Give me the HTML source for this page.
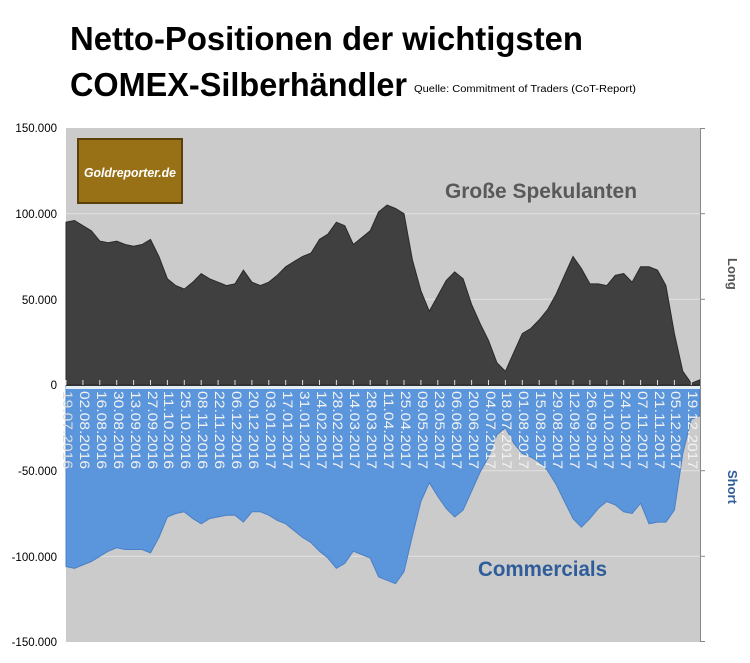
<!DOCTYPE html>
<html><head><meta charset="utf-8"><style>
body{margin:0;background:#fff;width:750px;height:663px;overflow:hidden}
svg{display:block;font-family:"Liberation Sans",sans-serif}
</style></head><body>
<svg width="750" height="663" viewBox="0 0 750 663">
<text x="70" y="50" font-size="33" font-weight="bold" fill="#000" textLength="513" lengthAdjust="spacingAndGlyphs">Netto-Positionen der wichtigsten</text>
<text x="70" y="96" font-size="33" font-weight="bold" fill="#000" textLength="337" lengthAdjust="spacingAndGlyphs">COMEX-Silberhändler</text>
<text x="414" y="92" font-size="10" fill="#000" textLength="222" lengthAdjust="spacingAndGlyphs">Quelle: Commitment of Traders (CoT-Report)</text>
<rect x="66" y="128" width="634" height="514" fill="#cbcbcb"/>
<g stroke="#e2e2e2" stroke-width="1">
<line x1="66" y1="213.7" x2="700" y2="213.7"/><line x1="66" y1="299.3" x2="700" y2="299.3"/>
<line x1="66" y1="470.7" x2="700" y2="470.7"/><line x1="66" y1="556.3" x2="700" y2="556.3"/>
</g>
<polygon id="longp" fill="#404040" stroke="#2a2a2a" stroke-width="1"/>
<polygon id="shortp" fill="#5b96dc" stroke="#4a80c4" stroke-width="1"/>
<rect x="66" y="384" width="634" height="2" fill="#333"/>
<rect x="66" y="386" width="634" height="3" fill="#e4ecf4"/>
<g id="lbl" font-size="14" fill="#f2f2f2">
<text transform="translate(63,391) rotate(90)" fill="#ddd">19.07.2016</text>
<text transform="translate(80,391) rotate(90)">02.08.2016</text>
<text transform="translate(97,391) rotate(90)">16.08.2016</text>
<text transform="translate(114,391) rotate(90)">30.08.2016</text>
<text transform="translate(131,391) rotate(90)">13.09.2016</text>
<text transform="translate(148,391) rotate(90)">27.09.2016</text>
<text transform="translate(164,391) rotate(90)">11.10.2016</text>
<text transform="translate(181,391) rotate(90)">25.10.2016</text>
<text transform="translate(198,391) rotate(90)">08.11.2016</text>
<text transform="translate(215,391) rotate(90)">22.11.2016</text>
<text transform="translate(232,391) rotate(90)">06.12.2016</text>
<text transform="translate(249,391) rotate(90)">20.12.2016</text>
<text transform="translate(266,391) rotate(90)">03.01.2017</text>
<text transform="translate(283,391) rotate(90)">17.01.2017</text>
<text transform="translate(300,391) rotate(90)">31.01.2017</text>
<text transform="translate(317,391) rotate(90)">14.02.2017</text>
<text transform="translate(333,391) rotate(90)">28.02.2017</text>
<text transform="translate(350,391) rotate(90)">14.03.2017</text>
<text transform="translate(367,391) rotate(90)">28.03.2017</text>
<text transform="translate(384,391) rotate(90)">11.04.2017</text>
<text transform="translate(401,391) rotate(90)">25.04.2017</text>
<text transform="translate(418,391) rotate(90)">09.05.2017</text>
<text transform="translate(435,391) rotate(90)">23.05.2017</text>
<text transform="translate(452,391) rotate(90)">06.06.2017</text>
<text transform="translate(469,391) rotate(90)">20.06.2017</text>
<text transform="translate(486,391) rotate(90)">04.07.2017</text>
<text transform="translate(502,391) rotate(90)">18.07.2017</text>
<text transform="translate(519,391) rotate(90)">01.08.2017</text>
<text transform="translate(536,391) rotate(90)">15.08.2017</text>
<text transform="translate(553,391) rotate(90)">29.08.2017</text>
<text transform="translate(570,391) rotate(90)">12.09.2017</text>
<text transform="translate(587,391) rotate(90)">26.09.2017</text>
<text transform="translate(604,391) rotate(90)">10.10.2017</text>
<text transform="translate(621,391) rotate(90)">24.10.2017</text>
<text transform="translate(638,391) rotate(90)">07.11.2017</text>
<text transform="translate(655,391) rotate(90)">21.11.2017</text>
<text transform="translate(671,391) rotate(90)">05.12.2017</text>
<text transform="translate(688,391) rotate(90)">19.12.2017</text>
</g>
<g id="ticks" stroke="#eee" stroke-width="1"></g>
<g font-size="11.5" fill="#000" text-anchor="end">
<text x="57" y="132">150.000</text><text x="57" y="218">100.000</text>
<text x="57" y="304">50.000</text><text x="57" y="389">0</text>
<text x="57" y="475">-50.000</text><text x="57" y="561">-100.000</text>
<text x="57" y="646">-150.000</text>
</g>
<g stroke="#888" stroke-width="1">
<line x1="700.5" y1="128" x2="700.5" y2="642"/>
<line x1="700" y1="128.5" x2="705" y2="128.5"/><line x1="700" y1="213.7" x2="705" y2="213.7"/>
<line x1="700" y1="299.3" x2="705" y2="299.3"/><line x1="700" y1="470.7" x2="705" y2="470.7"/>
<line x1="700" y1="556.3" x2="705" y2="556.3"/><line x1="700" y1="641.5" x2="705" y2="641.5"/>
</g>
<text transform="translate(728,258) rotate(90)" font-size="13" font-weight="bold" fill="#555">Long</text>
<text transform="translate(728,470) rotate(90)" font-size="13" font-weight="bold" fill="#2f5d9a">Short</text>
<text x="445" y="198" font-size="21" font-weight="bold" fill="#595959" textLength="192" lengthAdjust="spacingAndGlyphs">Große Spekulanten</text>
<text x="478" y="576" font-size="21" font-weight="bold" fill="#2f5d9a" textLength="129" lengthAdjust="spacingAndGlyphs">Commercials</text>
<rect x="78" y="139" width="104" height="64" fill="#987016"/>
<rect x="78" y="139" width="104" height="64" fill="none" stroke="#5a400a" stroke-width="2"/>
<text x="84" y="177" font-size="13" font-weight="bold" font-style="italic" fill="#fff" textLength="92" lengthAdjust="spacingAndGlyphs">Goldreporter.de</text>
</svg>
<script>
var L=[95,96,93,90,84,83,84,82,81,82,85,75,62,58,56,60,65,62,60,58,59,67,60,58,60,64,69,72,75,77,85,88,95,93,82,86,90,101,105,103,100,73,55,43,52,61,66,62,47,36,26,13,8,19,30,33,38,44,53,64,75,68,59,59,58,64,65,60,69,69,67,58,30,8,1,3];
var S=[-106,-107,-105,-103,-100,-97,-95,-96,-96,-96,-98,-89,-77,-75,-74,-78,-81,-78,-77,-76,-76,-80,-74,-74,-76,-79,-81,-85,-89,-92,-97,-101,-107,-104,-97,-99,-101,-112,-114,-116,-109,-88,-68,-57,-65,-72,-77,-73,-62,-51,-42,-29,-25,-34,-40,-42,-45,-50,-58,-68,-78,-83,-78,-72,-68,-70,-74,-75,-69,-81,-80,-80,-73,-40,-20,-18];
function pts(a){var p=["66,385"];for(var i=0;i<a.length;i++){p.push((66+i*8.45).toFixed(1)+","+(385-a[i]*1.7133).toFixed(1));}p.push("700,385");return p.join(" ");}
document.getElementById("longp").setAttribute("points",pts(L));
document.getElementById("shortp").setAttribute("points",pts(S));
var t=document.querySelectorAll("#lbl text");
for(var k=0;k<t.length;k++){t[k].setAttribute("textLength","78");t[k].setAttribute("lengthAdjust","spacingAndGlyphs");}
var g=document.getElementById("ticks"),h="";
for(var i=0;i<38;i++){var x=66+i*16.9;h+='<line x1="'+x+'" y1="385" x2="'+x+'" y2="380" stroke="#ddd"/>';}
g.innerHTML=h;
</script>
</body></html>
